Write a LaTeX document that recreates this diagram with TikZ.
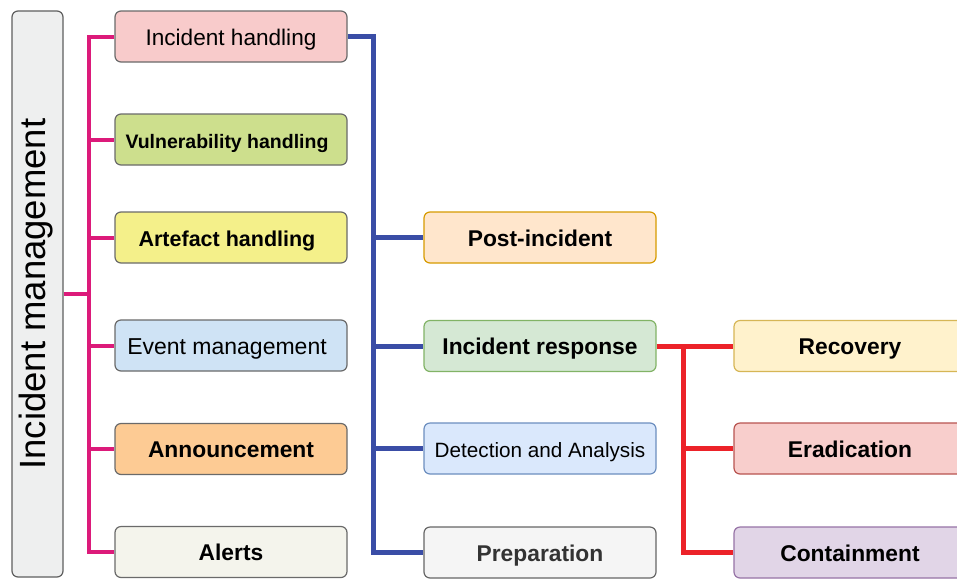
\documentclass[tikz,border=0pt]{standalone}
\usepackage{fontspec}
\setmainfont{Liberation Sans}
\definecolor{magl}{HTML}{DC1A7A}
\definecolor{blul}{HTML}{3A4DA6}
\definecolor{redl}{HTML}{EC2229}
\definecolor{gbord}{HTML}{6A6A6A}
\definecolor{fIH}{HTML}{F8CBCB}
\definecolor{fVH}{HTML}{CDDF8D}
\definecolor{fAH}{HTML}{F4F08A}
\definecolor{fEM}{HTML}{CFE3F5}
\definecolor{fAN}{HTML}{FDCB94}
\definecolor{fAL}{HTML}{F4F4EC}
\definecolor{fIM}{HTML}{EEEFEF}
\definecolor{fPI}{HTML}{FFE6CC}\definecolor{bPI}{HTML}{D79B00}
\definecolor{fIR}{HTML}{D5E8D4}\definecolor{bIR}{HTML}{82B366}
\definecolor{fDA}{HTML}{DAE8FC}\definecolor{bDA}{HTML}{6C8EBF}
\definecolor{fPR}{HTML}{F5F5F5}\definecolor{bPR}{HTML}{666666}
\definecolor{fRC}{HTML}{FFF2CC}\definecolor{bRC}{HTML}{D6B656}
\definecolor{fER}{HTML}{F8CECC}\definecolor{bER}{HTML}{B85450}
\definecolor{fCO}{HTML}{E1D5E7}\definecolor{bCO}{HTML}{9673A6}
\tikzset{
  box/.style={draw=gbord, line width=1.2pt, rounded corners=6pt, minimum width=232pt, minimum height=51pt, inner sep=0pt, text height=17.5pt, text depth=0pt, anchor=center},
  reg/.style={font=\fontsize{22.6}{26}\selectfont},
  bld/.style={font=\fontsize{22.8}{26}\selectfont\bfseries},
  magc/.style={draw=magl, line width=4pt},
  bluc/.style={draw=blul, line width=5pt},
  redc/.style={draw=redl, line width=5pt},
}
\begin{document}
\begin{tikzpicture}[x=1pt,y=-1pt]
\clip (0,0) rectangle (957,579);
\fill[white] (0,0) rectangle (957,579);
% left box
\node[box, fill=fIM, draw=gbord!90!black, minimum width=51pt, minimum height=566pt] (im) at (37.5,294) {};
\node[rotate=90, font=\fontsize{36.5}{40}\selectfont] (imt) at (36,294) {Incident management};
% column 1
\node[box, fill=fIH, reg] (ih) at (231,36.5) {Incident handling};
\node[box, fill=fVH, font=\fontsize{19.5}{24}\selectfont\bfseries] (vh) at (231,139.5) {\hspace*{-8pt}Vulnerability handling};
\node[box, fill=fAH, font=\fontsize{21.5}{24}\selectfont\bfseries] (ah) at (231,237.5) {\hspace*{-8pt}Artefact handling};
\node[box, fill=fEM, font=\fontsize{23}{26}\selectfont] (em) at (231,345.5) {\hspace*{-8pt}Event management};
\node[box, fill=fAN, bld] (an) at (231,449) {Announcement};
\node[box, fill=fAL, bld] (al) at (231,552) {Alerts};
% column 2
\node[box, fill=fPI, draw=bPI, bld] (pi) at (540,237.5) {Post-incident};
\node[box, fill=fIR, draw=bIR, bld] (ir) at (540,346) {Incident response};
\node[box, fill=fDA, draw=bDA, font=\fontsize{20.7}{24}\selectfont] (da) at (540,448.5) {Detection and Analysis};
\node[box, fill=fPR, draw=bPR, bld, text=black!80] (pr) at (540,552.5) {Preparation};
% column 3
\node[box, fill=fRC, draw=bRC, bld] (rc) at (850,346) {Recovery};
\node[box, fill=fER, draw=bER, bld] (er) at (850,448.5) {Eradication};
\node[box, fill=fCO, draw=bCO, bld] (co) at (850,552.5) {Containment};
% junction coordinates
\coordinate (mx) at (89,0);
\coordinate (bx) at (373,0);
\coordinate (rx) at (683,0);
% magenta connectors
\draw[magc] (im.east) -- (mx |- im.east);
\draw[magc, line join=miter] (ih.west) -- (mx |- ih.west) -- (mx |- al.west) -- (al.west);
\foreach \n in {vh,ah,em,an} \draw[magc] (mx |- \n.west) -- (\n.west);
% blue connectors
\draw[bluc, line join=miter] (ih.east) -- (bx |- ih.east) -- (bx |- pr.west) -- (pr.west);
\foreach \n in {pi,ir,da} \draw[bluc] (bx |- \n.west) -- (\n.west);
% red connectors
\draw[redc] (ir.east) -- (rc.west);
\draw[redc, line join=miter] (rx |- ir.east) -- (rx |- co.west) -- (co.west);
\draw[redc] (rx |- er.west) -- (er.west);
\end{tikzpicture}
\end{document}
